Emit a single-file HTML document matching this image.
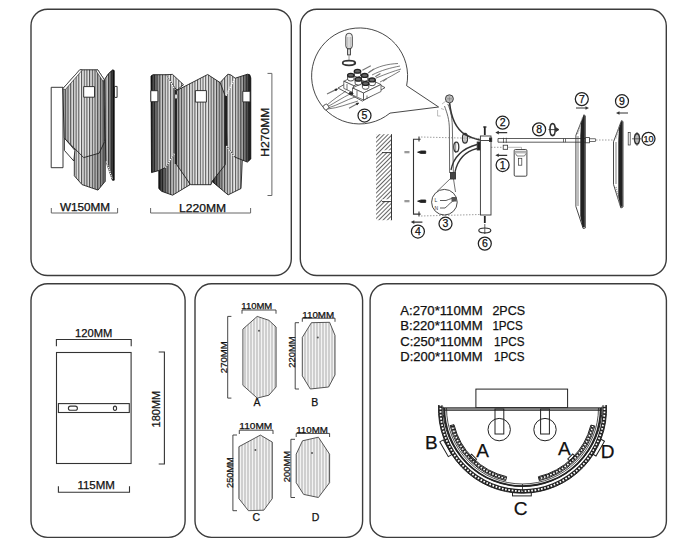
<!DOCTYPE html>
<html><head><meta charset="utf-8">
<style>
html,body{margin:0;padding:0;background:#fff;width:700px;height:544px;overflow:hidden}
svg{display:block}
text{font-family:"Liberation Sans",sans-serif;fill:#111;stroke:#111;stroke-width:.25px}
</style></head>
<body>
<svg width="700" height="544" viewBox="0 0 700 544">
<defs>
 <pattern id="lt" width="3" height="10" patternUnits="userSpaceOnUse">
  <rect width="3" height="10" fill="#d9d9d9"/>
  <rect x="0" width="0.9" height="10" fill="#f6f6f6"/>
  <rect x="1.6" width="0.8" height="10" fill="#c2c2c2"/>
 </pattern>
 <pattern id="st" width="2.7" height="10" patternUnits="userSpaceOnUse">
  <rect width="2.7" height="10" fill="#f2f2f2"/>
  <rect x="0" width="1.1" height="10" fill="#555"/>
 </pattern>
 <pattern id="tooth" width="3" height="3" patternUnits="userSpaceOnUse">
  <rect width="3" height="3" fill="#fff"/>
 </pattern>

 <linearGradient id="gL" x1="0" x2="1" y1="0" y2="0">
  <stop offset="0" stop-color="#000" stop-opacity=".85"/>
  <stop offset=".35" stop-color="#000" stop-opacity=".25"/>
  <stop offset=".7" stop-color="#000" stop-opacity="0"/>
  <stop offset="1" stop-color="#000" stop-opacity=".15"/>
 </linearGradient>
 <linearGradient id="gR" x1="0" x2="1" y1="0" y2="0">
  <stop offset="0" stop-color="#000" stop-opacity=".1"/>
  <stop offset=".4" stop-color="#000" stop-opacity="0"/>
  <stop offset=".75" stop-color="#000" stop-opacity=".35"/>
  <stop offset="1" stop-color="#000" stop-opacity=".9"/>
 </linearGradient>
 <linearGradient id="gC" x1="0" x2="1" y1="0" y2="0">
  <stop offset="0" stop-color="#000" stop-opacity=".35"/>
  <stop offset=".2" stop-color="#000" stop-opacity=".05"/>
  <stop offset=".6" stop-color="#000" stop-opacity="0"/>
  <stop offset="1" stop-color="#000" stop-opacity=".3"/>
 </linearGradient>

 <pattern id="hatch" width="3" height="3" patternUnits="userSpaceOnUse" patternTransform="rotate(-45)">
  <rect width="3" height="3" fill="#fff"/>
  <rect width="3" height="0.9" fill="#555"/>
 </pattern>
 <symbol id="arrL" viewBox="0 0 14 4" overflow="visible">
  <path d="M0 2H13" stroke="#333" stroke-width="1.3"/>
  <path d="M0 2L3.5 0.2V3.8Z" fill="#333"/>
 </symbol>

 <linearGradient id="gB" x1="0" x2="1" y1="0" y2="0">
  <stop offset="0" stop-color="#000" stop-opacity="0"/>
  <stop offset=".5" stop-color="#000" stop-opacity=".12"/>
  <stop offset="1" stop-color="#000" stop-opacity=".45"/>
 </linearGradient>
 <linearGradient id="gF" x1="0" x2="1" y1="0" y2="0">
  <stop offset="0" stop-color="#000" stop-opacity=".35"/>
  <stop offset=".15" stop-color="#000" stop-opacity=".12"/>
  <stop offset=".45" stop-color="#000" stop-opacity="0"/>
  <stop offset=".75" stop-color="#000" stop-opacity=".1"/>
  <stop offset="1" stop-color="#000" stop-opacity=".4"/>
 </linearGradient>
 <linearGradient id="gRR" x1="0" x2="1" y1="0" y2="0">
  <stop offset="0" stop-color="#000" stop-opacity=".05"/>
  <stop offset=".3" stop-color="#000" stop-opacity=".2"/>
  <stop offset=".7" stop-color="#000" stop-opacity=".6"/>
  <stop offset="1" stop-color="#000" stop-opacity=".95"/>
 </linearGradient>
</defs>

<!-- panels -->
<g fill="none" stroke="#3c3c3c" stroke-width="1.4">
 <rect x="31" y="9.2" width="260.3" height="266.3" rx="16.5"/>
 <rect x="300.3" y="9.3" width="366" height="266.2" rx="16.5"/>
 <rect x="31" y="283.8" width="154.1" height="253.6" rx="16.5"/>
 <rect x="195" y="283.8" width="167.6" height="253.6" rx="16.5"/>
 <rect x="370.1" y="283.8" width="296.3" height="253.6" rx="16.5"/>
</g>


<!-- ============ TL panel ============ -->
<g id="lamp1" stroke="#222" stroke-width="0.9" stroke-linejoin="round">
 <rect x="51.2" y="87.3" width="11.8" height="80.4" fill="#fff"/>
 <polygon fill="url(#st)" points="74.3,148 105.2,140 105.2,181.3 98,190.1 82,184.6 74.3,175.8"/>
 <polygon fill="url(#gB)" stroke="none" points="74.3,148 105.2,140 105.2,181.3 98,190.1 82,184.6 74.3,175.8"/>
 <polygon fill="#fff" points="64.4,138 74.9,150.4 73.8,161 64.4,150.4"/>
 <polygon fill="url(#st)" points="62.8,88.7 79.8,69.8 97.7,69.8 104.1,79.5 104.7,141.6 99.1,153.2 83.7,157.6 64.2,138"/>
 <polygon fill="url(#gF)" stroke="none" points="62.8,88.7 79.8,69.8 97.7,69.8 104.1,79.5 104.7,141.6 99.1,153.2 83.7,157.6 64.2,138"/>
 <polygon fill="#fff" stroke-width=".6" points="62.8,88.7 79.8,69.8 82.3,70 65.3,89.6"/>
 <polygon fill="#fff" stroke-width=".6" points="97.7,69.8 104.1,79.5 103.2,81.5 96.2,71"/>
 <path d="M104.5 79.5 Q108 73 112.8 69.8 L114.2 70.5 L114.2 180.2 L112.4 180.2 L105.8 161 Z" fill="url(#st)"/>
 <path d="M104.5 79.5 Q108 73 112.8 69.8 L114.2 70.5 L114.2 180.2 L112.4 180.2 L105.8 161 Z" fill="url(#gRR)" stroke="none"/>
 <path d="M106.3 161.5L112.4 179" stroke="#fff" stroke-width="1.2" stroke-dasharray="1.2 .8"/>
 <rect x="114.5" y="86.4" width="2.6" height="11" fill="#fff"/>
 <rect x="83.7" y="86.6" width="10.8" height="10.6" fill="#fff"/>
</g>
<g id="lamp2" stroke="#222" stroke-width="0.9" stroke-linejoin="round">
 <polygon fill="url(#st)" points="158.8,168 175,150 190,184.7 172.6,195.2 161.6,191.3 158.8,188.6"/>
 <polygon fill="url(#gL)" stroke="none" points="158.8,168 175,150 190,184.7 172.6,195.2 161.6,191.3 158.8,188.6"/>
 <polygon fill="url(#st)" points="226,145 242.3,159.6 241,188.5 228.1,194.9 212,181.4"/>
 <polygon fill="url(#gL)" stroke="none" points="226,145 242.3,159.6 241,188.5 228.1,194.9 212,181.4"/>
 <polygon fill="url(#st)" points="151,76 153,74.7 166,74.7 175,88 175,153 165.4,167.6 159.3,170.4 151.5,172.6"/>
 <polygon fill="url(#gL)" stroke="none" points="151,76 153,74.7 166,74.7 175,88 175,153 165.4,167.6 159.3,170.4 151.5,172.6"/>
 <polygon fill="url(#st)" points="166,74.7 172.5,74.4 183.5,84.7 177,90 175,88"/>
 <polygon fill="url(#st)" points="176.5,90.6 207.7,74.5 220.1,82.6 225.3,90 225.3,164.7 212,181.4 211,184.7 190.6,184.7 176.5,164.5"/>
 <polygon fill="url(#gC)" stroke="none" points="176.5,90.6 207.7,74.5 220.1,82.6 225.3,90 225.3,164.7 212,181.4 211,184.7 190.6,184.7 176.5,164.5"/>
 <polygon fill="url(#st)" points="220.1,82.6 227.9,74.2 230.8,74.9 235.2,78.2 247.5,74.2 249.8,74.8 250.8,78 250.8,159 247.4,162.1 234.6,157 227,146 225.3,96 224.6,94.4"/>
 <polygon fill="url(#gR)" stroke="none" points="220.1,82.6 227.9,74.2 230.8,74.9 235.2,78.2 247.5,74.2 249.8,74.8 250.8,78 250.8,159 247.4,162.1 234.6,157 227,146 225.3,96 224.6,94.4"/>
 <rect x="174.7" y="90" width="1.8" height="74" fill="#222" stroke="none"/>
 <rect x="224.8" y="96" width="2.2" height="50" fill="#222" stroke="none"/>
 <path d="M166.5 75.5L174.5 88.5 M165.4 167.6L174.5 153.5 M226.5 146L234 156.5 M234.6 78.9L225.9 95.3" stroke="#fff" stroke-width="1.3" stroke-dasharray="1.3 .9"/>
 <rect x="150.8" y="90.7" width="7.1" height="11" fill="#fff"/>
 <rect x="195.4" y="90.6" width="11" height="11.5" fill="#fff"/>
 <rect x="242.8" y="91.3" width="7.3" height="10.6" fill="#fff"/>
 <rect x="174.9" y="94.3" width="2.3" height="4.4" fill="#fff" stroke-width=".5"/>
</g>
<g fill="none" stroke="#666" stroke-width="1">
 <path d="M51.3 208V213H117.6V208"/>
 <path d="M150.6 208V213H250.6V208"/>
 <path d="M267.5 73.4H271.9V195.5H267.5"/>
</g>
<g font-size="10" style="fill:#333;stroke:#333;stroke-width:.1px">
 <text x="85" y="210.8" text-anchor="middle" textLength="50.2" lengthAdjust="spacingAndGlyphs">W150MM</text>
 <text x="202.6" y="211.6" text-anchor="middle" textLength="47" lengthAdjust="spacingAndGlyphs">L220MM</text>
 <text transform="translate(269.4 132.2) rotate(-90)" text-anchor="middle" textLength="49" lengthAdjust="spacingAndGlyphs">H270MM</text>
</g>


<!-- ============ TR panel ============ -->
<g id="tr" fill="none" stroke="#333" stroke-width="0.9">
 <!-- callout circle 5 -->
 <path d="M406.6 85.7 A48 48 0 1 0 390 113.1 L438.6 107 L406.6 85.7" />
 <!-- screwdriver -->
 <rect x="345.8" y="33.3" width="6.5" height="15.6" rx="3" fill="#eee"/>
 <path d="M347.5 37V48M349 37V48M350.5 37V48" stroke="#999" stroke-width=".5"/>
 <rect x="347.6" y="48.9" width="2.8" height="6" fill="#ddd"/>
 <path d="M349 55V60" stroke="#888"/>
 <ellipse cx="349" cy="63" rx="6.3" ry="2.3" stroke-width="1.7"/>
 <path d="M353 61.5l2.5 1.5-2.5 1.3" stroke-width=".8"/>
 <!-- terminal block base -->
 <polygon points="338,88 361,75 385,87.6 362.4,101.1" fill="#fff" stroke-width=".8"/>
 <!-- blocks -->
 <g fill="#fff" stroke="#333" stroke-width=".7">
  <polygon points="343.8,81.2 356,75.5 366,80 353.8,85.8"/>
  <polygon points="343.8,81.2 353.8,85.8 353.8,93 343.8,88.4"/>
  <polygon points="353.8,85.8 366,80 366,87 353.8,93"/>
  <polygon points="352.5,88 370,79.5 381,84.5 363.5,93"/>
  <polygon points="352.5,88 363.5,93 363.5,100 352.5,95"/>
  <polygon points="363.5,93 381,84.5 381,91.5 363.5,100"/>
  <path d="M347 84v6 M357 90.5v6 M367 95.5v3"/>
 </g>
 <!-- wires left -->
 <path d="M327 105 C334 99 340 95 346 91 M328 106.5 C336 102 342 98 350 94 M328 108 C338 105 346 100 355 97 M327.5 109 C338 108 348 104 358 101" stroke="#444" stroke-width=".7"/>
 <rect x="323.5" y="104.5" width="5" height="5" rx="1.5" fill="#fff" stroke-width=".8" transform="rotate(-30 326 107)"/>
 <path d="M327 94L337.4 88.9 M349 108.2L358.6 103" stroke="#777" stroke-width="1.2"/>
 <path d="M337.4 88.9l-2.5.3 1 1.8z M358.6 103l-2.5.3 1 1.8z" fill="#222" stroke="#222" stroke-width=".6"/>
 <!-- wires right -->
 <path d="M368.8 72.2 C378 66 388 64 398 63.5 M372 75 C382 70 390 68 400 66 M376 78 C386 74 394 71 401 69 M380 82 C388 78 395 74 400 71" stroke="#444" stroke-width=".7"/>
 <path d="M362.4 70.3L370.8 65.8 M368.2 72.9L374 69 M375.3 76.7L380.4 73.5 M383 81.2L386.8 78.6" stroke="#777" stroke-width="1.2"/>
 <!-- six cylinders -->
 <g fill="#fff" stroke="#222" stroke-width=".8">
  <path d="M354.3 71.3v3.9a3.2 1.9 0 0 0 6.4 0V71.3"/><ellipse cx="357.5" cy="71.3" rx="3.2" ry="1.9" fill="#666" stroke-width="1.3"/>
  <path d="M347.6 75.2v3.9a3.2 1.9 0 0 0 6.4 0V75.2"/><ellipse cx="350.8" cy="75.2" rx="3.2" ry="1.9" fill="#666" stroke-width="1.3"/>
  <path d="M361.5 75.4v3.9a3.2 1.9 0 0 0 6.4 0V75.4"/><ellipse cx="364.7" cy="75.4" rx="3.2" ry="1.9" fill="#666" stroke-width="1.3"/>
  <path d="M355.1 79.3v3.9a3.2 1.9 0 0 0 6.4 0V79.3"/><ellipse cx="358.3" cy="79.3" rx="3.2" ry="1.9" fill="#666" stroke-width="1.3"/>
  <path d="M368.9 79.9v3.9a3.2 1.9 0 0 0 6.4 0V79.9"/><ellipse cx="372.1" cy="79.9" rx="3.2" ry="1.9" fill="#666" stroke-width="1.3"/>
  <path d="M362.4 83.5v3.9a3.2 1.9 0 0 0 6.4 0V83.5"/><ellipse cx="365.6" cy="83.5" rx="3.2" ry="1.9" fill="#666" stroke-width="1.3"/>
 </g>
 <ellipse cx="351" cy="93.5" rx="2" ry="1.3" fill="#222"/>

 <!-- nut + arm -->
 <circle cx="449.4" cy="98.8" r="4" fill="#bbb" stroke-width=".9"/>
 <path d="M447 98.8h5M449.4 96.5v5" stroke="#777" stroke-width=".6"/>
 <path d="M449.6 103 C451 117 455 128 465 134.5 C471 138 476 139 480 140" stroke-width="1.6"/>
 <path d="M444.5 106 C447 113 449.4 119 449.4 130 L449.6 173 M447.8 104 C451 111 452.4 119 452.4 130 L453.4 173" stroke="#444" stroke-width=".8"/>
 <path d="M442 104l4-3 M441 108.5l3 1 M437.6 110v6h3" stroke="#aaa" stroke-width=".8"/>
 <!-- lower arm -->
 <path d="M451 170 C454 155 464 148 477 144.5 M455 172 C458 158 467 151 477 148.5" stroke-width="1.3"/>
 <ellipse cx="465" cy="138.2" rx="2.5" ry="4.9" stroke-width="1.3"/>
 <ellipse cx="456.3" cy="147" rx="2.5" ry="4.9" stroke-width="1.3"/>
 <path d="M465 133v10 M455.7 142v11" stroke-width=".6"/>
 <rect x="477.2" y="142" width="3" height="8" fill="#222"/>
 <rect x="450.5" y="172.5" width="5" height="6.5" fill="#444"/>
 <!-- dashed lines -->
 <path d="M421 137 L480 138.5 M421 216 L480 214.5 M491 147.3 H503 M596 140 H613" stroke="#777" stroke-dasharray="1.5 1.5" stroke-width=".7"/>
 <!-- backplate -->
 <rect x="480.4" y="136" width="10.6" height="79" fill="#fff"/>
 <path d="M480.4 140.5H491" />
 <rect x="489.5" y="138" width="2.2" height="3.5" fill="#222"/>
 <path d="M484.8 126.5v8.5" stroke="#222" stroke-width="1.8"/><path d="M483 127h3.6" stroke="#222" stroke-width="1"/>
 <path d="M484.8 216v7" stroke="#222" stroke-width="1.8"/>
 <ellipse cx="484.8" cy="230.4" rx="6" ry="2.4" stroke-width="1.2"/>
 <path d="M484.8 224v10" stroke-width=".8"/>
 <!-- wall -->
 <rect x="376.1" y="134.2" width="15.2" height="86" fill="url(#hatch)" stroke="none"/>
 <rect x="382" y="150.3" width="9.5" height="2" fill="#fff" stroke="none"/>
 <rect x="382" y="199.3" width="9.5" height="2" fill="#fff" stroke="none"/>
 <path d="M382 152.6H391.5M382 201.6H391.5 M391.5 134.2V220.2" stroke="#222" stroke-width=".9"/>
 <rect x="404.4" y="151" width="5.1" height="2.3" fill="#999" stroke="none"/>
 <rect x="404.4" y="200" width="5.1" height="2.3" fill="#999" stroke="none"/>
 <path d="M417.6 152.2L421 151H425.7V153.4H421Z M417.6 201.2L421 200H425.7V202.4H421Z" fill="#222" stroke="#222"/>
 <!-- bracket -->
 <path d="M420.6 139.2H413.5V214.1H420.6 M419 136.5v5 M419 211.5v5" stroke-width="1.1"/>
 <!-- circle 3 -->
 <circle cx="444.4" cy="202.2" r="12.8" fill="#fff"/>
 <path d="M437 191.5L451 178 M455.5 192L453.5 179" stroke-width=".7"/>
 <path d="M440 200.5h6 M440 208h5 M446 200.5 C450 199 452 198 456 198 M445 208 C449 205 451 201 456 200" stroke-width=".8"/>
 <rect x="451.5" y="197" width="5" height="4.5" fill="#555" stroke="none"/>
 <text x="434.5" y="201.5" font-size="5" style="stroke:none;fill:#333">L</text><text x="434.5" y="209.5" font-size="5" style="stroke:none;fill:#333">N</text>
 <rect x="503.2" y="145.2" width="4.4" height="4.1" fill="#fff" stroke-width=".8"/>
 <path d="M507.6 147.3H521.5V150" stroke="#888" stroke-width=".6"/>
 <!-- box -->
 <rect x="514.2" y="149.5" width="12.7" height="26.7" rx="1.2" fill="#fff"/>
 <path d="M514.5 151.3h12 M514.5 152.8h12" stroke="#999" stroke-width="1"/>
 <path d="M515.5 153.5L517 156H524.5L526 153.5" stroke-width=".6"/>
 <rect x="518.6" y="158.3" width="3.2" height="6.9" fill="#fff" stroke-width=".7"/>
 <!-- panel 7 -->
 <polygon points="584.1,114.7 575.9,135.3 575.9,206.5 583.2,228.5 585.3,228 585.3,116" fill="#fff"/>
 <path d="M578 136V206" stroke="#aaa" stroke-width="1.5"/>
 <path d="M582.5 118L577.5 134M581.5 210L583 226" stroke="#999" stroke-width="1.5" stroke-dasharray="1 1"/>
 <!-- panel 9 -->
 <polygon points="621.5,120.6 613.5,141.8 613.5,184.4 620.9,208 623,207 623,121.5" fill="#fff"/>
 <path d="M616 142V184" stroke="#aaa" stroke-width="1.5"/>
 <path d="M620.3 124L615.5 139M616 187L620 205" stroke="#999" stroke-width="1.5" stroke-dasharray="1 1"/>
 <!-- tube -->
 <path d="M498 138.5H586 M498 142.2H586 M498 138.5V142.2" stroke-width=".8"/>
 <path d="M503.5 137.8V142.9M506.3 137.8V142.9 M563.5 138.5V142.2M565.5 138.5V142.2" stroke-width=".7"/>
 <rect x="585.5" y="137.6" width="4" height="5.2" fill="#fff" stroke-width=".8"/>
 <rect x="589.5" y="138.8" width="6" height="2.6" fill="#fff" stroke-width=".7"/>
 <polygon points="583.8,115 581,123 580.3,135 580.3,216 582.6,227.5 584.8,227 584.8,116" fill="#222" stroke="none"/>
 <polygon points="621.5,121 619,128 618.3,141 618.3,196 620.5,207 622.6,206.5 622.6,122" fill="#222" stroke="none"/>
 <!-- ring 8, 10 -->
 <ellipse cx="552.6" cy="129.6" rx="2.6" ry="6" stroke-width="1.6"/>
 <path d="M548.5 129.6h8" stroke-width=".9"/><path d="M559 129.6l-3-1.8v3.6z" fill="#333"/>
 <ellipse cx="637" cy="138.8" rx="2.4" ry="5.2" stroke-width="1.6"/>
 <path d="M637 132v14 M632 138.8h9" stroke-width=".7"/>
 <rect x="628.2" y="132.5" width="2" height="12.5" fill="#fff" stroke-width=".7"/>
</g>
<!-- arrows -->
<g fill="#333" stroke="none">
 <path d="M495.3 132.6l3.5-1.8v1.2h8.4v1.2h-8.4v1.2z"/>
 <path d="M495.3 155.3l3.5-1.8v1.2h8.4v1.2h-8.4v1.2z"/>
 <path d="M410.8 222.1l3.5-1.8v1.2h8.1v1.2h-8.1v1.2z"/>
 <path d="M589 108l-3.5-1.8v1.2h-9.5v1.2h9.5v1.2z"/>
 <path d="M616 113l3.5-1.8v1.2h8.5v1.2h-8.5v1.2z"/>
</g>
<!-- circled numbers -->
<g fill="none" stroke="#222" stroke-width="1.25">
 <circle cx="502.6" cy="165" r="6.5"/>
 <circle cx="502.6" cy="122.7" r="6.5"/>
 <circle cx="445.5" cy="223.7" r="6.5"/>
 <circle cx="417.9" cy="231.5" r="6.5"/>
 <circle cx="364.5" cy="115.5" r="6.5"/>
 <circle cx="484.8" cy="243.6" r="6.5"/>
 <circle cx="581.8" cy="99.1" r="6.5"/>
 <circle cx="539.1" cy="129.4" r="6.5"/>
 <circle cx="622" cy="101.2" r="6.5"/>
 <circle cx="648.5" cy="138.8" r="6.5"/>
</g>
<g font-size="10.5" text-anchor="middle" style="stroke:none;fill:#222">
 <text x="502.6" y="168.6">1</text>
 <text x="502.6" y="126.3">2</text>
 <text x="445.5" y="227.3">3</text>
 <text x="417.9" y="235.1">4</text>
 <text x="364.5" y="119.1">5</text>
 <text x="484.8" y="247.2">6</text>
 <text x="581.8" y="102.7">7</text>
 <text x="539.1" y="133">8</text>
 <text x="622" y="104.8">9</text>
 <text x="648.5" y="142.4" font-size="9">10</text>
</g>

<!-- ============ BL panel ============ -->
<g fill="none" stroke="#333" stroke-width="1.1">
 <rect x="56.5" y="352.5" width="74.6" height="111"/>
 <rect x="58.4" y="403.6" width="70.9" height="8.9"/>
 <rect x="68.4" y="406.1" width="9" height="4.2" rx="2.1"/>
 <ellipse cx="115" cy="408.3" rx="1.6" ry="2.2"/>
 <path d="M56.4 346.3V339.5H131.2V346.3"/>
 <path d="M58.4 486.2V492.3H129.5V486.2"/>
 <path d="M158.7 352H164.4V464H158.7"/>
</g>
<text x="93.7" y="336.7" font-size="11" text-anchor="middle" textLength="37.2" lengthAdjust="spacingAndGlyphs">120MM</text>
<text x="96.2" y="489.4" font-size="11" text-anchor="middle" textLength="37.5" lengthAdjust="spacingAndGlyphs">115MM</text>
<text transform="translate(159.6 409.1) rotate(-90)" font-size="11" text-anchor="middle" textLength="36.6" lengthAdjust="spacingAndGlyphs">180MM</text>

<!-- ============ BM panel ============ -->
<g stroke="#444" stroke-width="0.9">
 <polygon fill="url(#lt)" points="257.2,316.4 268.9,320.3 276.1,327 276.1,387 268.9,395.2 257.2,398.1 242.9,385.3 242.9,329.1"/>
 <polygon fill="url(#lt)" points="311.4,322.7 329.6,322.3 335,335.4 335,374.9 328.6,387 310.3,389 302.3,375.9 302.3,337.4"/>
 <polygon fill="url(#lt)" points="260.4,435.1 272.3,442.1 272.3,498.6 263.8,510.2 248.4,510.7 238.9,498.6 238.9,446.7"/>
 <polygon fill="url(#lt)" points="302.5,440.8 318.4,437.2 329.6,454.2 329.6,482.7 318.4,497.5 303.6,494.4 296.2,482.7 296.2,454.2"/>
</g>
<g fill="#555"><circle cx="259" cy="330.7" r="1"/><circle cx="317.8" cy="337.4" r="1"/><circle cx="255.4" cy="449.9" r="1"/><circle cx="312" cy="453.1" r="1"/></g>
<g fill="none" stroke="#333" stroke-width="0.9">
 <path d="M242 313.7V310H276V313.7"/>
 <path d="M231.4 316.4H227.7V398.1H231.4"/>
 <path d="M302.3 321.8V318.2H335V321.8"/>
 <path d="M299 322.7H295.2V389H299"/>
 <path d="M239.3 434V430.2H273V434"/>
 <path d="M237 435H232.9V510.7H237"/>
 <path d="M296.2 437V433.4H329.6V437"/>
 <path d="M295 439.3H290.9V497.5H295"/>
</g>
<g font-size="9">
 <text x="256.8" y="309.3" text-anchor="middle" textLength="30.9" lengthAdjust="spacingAndGlyphs">110MM</text>
 <text x="318.2" y="317.6" text-anchor="middle" textLength="31.9" lengthAdjust="spacingAndGlyphs">110MM</text>
 <text x="255.8" y="429.4" text-anchor="middle" textLength="33" lengthAdjust="spacingAndGlyphs">110MM</text>
 <text x="312" y="432.6" text-anchor="middle" textLength="31.7" lengthAdjust="spacingAndGlyphs">110MM</text>
 <text transform="translate(227 357.2) rotate(-90)" text-anchor="middle" textLength="31.9" lengthAdjust="spacingAndGlyphs">270MM</text>
 <text transform="translate(294.6 352.1) rotate(-90)" text-anchor="middle" textLength="31.4" lengthAdjust="spacingAndGlyphs">220MM</text>
 <text transform="translate(232.5 472.6) rotate(-90)" text-anchor="middle" textLength="30.7" lengthAdjust="spacingAndGlyphs">250MM</text>
 <text transform="translate(290.2 466.6) rotate(-90)" text-anchor="middle" textLength="31.3" lengthAdjust="spacingAndGlyphs">200MM</text>
</g>
<g font-size="10.5" text-anchor="middle">
 <text x="257" y="406.2">A</text>
 <text x="314.8" y="406.2">B</text>
 <text x="256.2" y="520.8">C</text>
 <text x="315.6" y="520.8">D</text>
</g>

<!-- ============ BR panel ============ -->
<g font-size="12" style="stroke-width:.35px">
 <text x="400.3" y="314.7" textLength="82.3" lengthAdjust="spacingAndGlyphs">A:270*110MM</text>
 <text x="492.4" y="314.7" textLength="32.6" lengthAdjust="spacingAndGlyphs">2PCS</text>
 <text x="400.3" y="330.4" textLength="82.3" lengthAdjust="spacingAndGlyphs">B:220*110MM</text>
 <text x="492.4" y="330.4" textLength="30.4" lengthAdjust="spacingAndGlyphs">1PCS</text>
 <text x="400.3" y="346" textLength="82.3" lengthAdjust="spacingAndGlyphs">C:250*110MM</text>
 <text x="494" y="346" textLength="30.4" lengthAdjust="spacingAndGlyphs">1PCS</text>
 <text x="400.3" y="361.4" textLength="82.3" lengthAdjust="spacingAndGlyphs">D:200*110MM</text>
 <text x="494" y="361.4" textLength="30.4" lengthAdjust="spacingAndGlyphs">1PCS</text>
</g>
<g id="semi" fill="none" stroke="#222" stroke-width="1">
 <rect x="475.9" y="389.1" width="91.7" height="18.5" fill="#fff"/>
 <path d="M442.7 409H602" stroke-width="2.4" stroke="#999"/><path d="M442.7 407.8H602M443.5 410.3H601.5" stroke-width=".9"/>
 <rect x="495" y="409" width="8.8" height="25"/>
 <rect x="540.6" y="409" width="8.8" height="25"/>
 <circle cx="499.2" cy="429.6" r="11.2"/>
 <circle cx="545" cy="429.6" r="11.2"/>
 <!-- bands -->
 <path d="M606.4 405.1A84 84 0 1 1 438.6 405.1" stroke-width="1"/>
 <path d="M604.4 405.1A82 82 0 1 1 440.6 405.1" stroke-width="4" stroke="#222"/><path d="M604.4 405.1A82 82 0 1 1 440.6 405.1" stroke-width="1.8" stroke="#fff" stroke-dasharray="1.7 1.6"/>
 <path d="M602.1 406.6A79.6 79.6 0 1 1 442.9 406.6" stroke-width="1"/>
 <path d="M600.7 408.0A78.2 78.2 0 0 1 444.3 408.0" stroke-width="1.8"/>
 <path d="M598.5 408.0A76 76 0 0 1 446.5 408.0" stroke-width=".8"/>
 <path d="M505.7 480.6A74.5 74.5 0 0 1 450.1 425.6" stroke-width="1"/>
 <path d="M506.2 478.6A72.5 72.5 0 0 1 452.1 425.2" stroke-width="3" stroke="#222"/><path d="M506.2 478.6A72.5 72.5 0 0 1 452.1 425.2" stroke-width="1.6" stroke="#fff" stroke-dasharray="1.7 1.6"/>
 <path d="M506.6 476.7A70.5 70.5 0 0 1 454.0 424.7" stroke-width="1"/>
 <path d="M506.6 476.7L505.7 480.6" stroke-width="1"/>
 <path d="M454.0 424.7L450.1 425.6" stroke-width="1"/>
 <path d="M594.8 426.0A74.5 74.5 0 0 1 539.3 480.6" stroke-width="1"/>
 <path d="M592.8 425.5A72.5 72.5 0 0 1 538.8 478.6" stroke-width="3" stroke="#222"/><path d="M592.8 425.5A72.5 72.5 0 0 1 538.8 478.6" stroke-width="1.6" stroke="#fff" stroke-dasharray="1.7 1.6"/>
 <path d="M590.9 425.1A70.5 70.5 0 0 1 538.4 476.7" stroke-width="1"/>
 <path d="M590.9 425.1L594.8 426.0" stroke-width="1"/>
 <path d="M538.4 476.7L539.3 480.6" stroke-width="1"/>
 <path d="M522.5 484V491.5" stroke-width=".8"/>
 <!-- tabs -->
 <rect x="512.5" y="492.5" width="18.8" height="3.4"/>
 <rect x="-2" y="-8.5" width="4" height="17" transform="translate(445.8 448.3) rotate(-30)"/>
 <rect x="-2" y="-8.5" width="4" height="17" transform="translate(598.5 447.6) rotate(30)"/>
 <rect x="-1.5" y="-3.5" width="3" height="7" transform="translate(473 457.8) rotate(-45)"/>
 <rect x="-1.5" y="-3.5" width="3" height="7" transform="translate(571.3 457.5) rotate(45)"/>
</g>
<g font-size="19" text-anchor="middle" style="stroke-width:.5px">
 <text x="431.4" y="449.4">B</text>
 <text x="482.7" y="456.8">A</text>
 <text x="564.3" y="455.3">A</text>
 <text x="607.6" y="458.2">D</text>
 <text x="520.6" y="515.3">C</text>
</g>

</svg>
</body></html>
